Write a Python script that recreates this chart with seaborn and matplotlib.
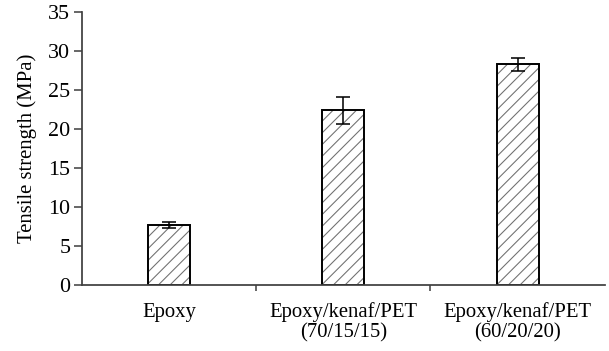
import matplotlib
matplotlib.use('Agg')
import matplotlib.pyplot as plt
import numpy as np
import pandas as pd
import seaborn as sns

# tensile strength data
samples = ["Epoxy", "Epoxy/kenaf/PET\n(70/15/15)", "Epoxy/kenaf/PET\n(60/20/20)"]
strength = [7.7, 22.4, 28.3]
strength_err = [0.4, 1.7, 0.85]
yticks = [0, 5, 10, 15, 20, 25, 30, 35]

sns.set_style("white")
plt.rcParams['font.family'] = ['Liberation Serif', 'DejaVu Serif']
plt.rcParams['hatch.linewidth'] = 0.55
plt.rcParams['hatch.color'] = '#707070'

data = pd.DataFrame({'Sample': samples, 'Strength': strength})

fig = plt.figure(figsize=(609 / 140, 351 / 140), dpi=140)
ax = fig.add_axes([0.1346, 0.188, 0.8584, 0.778])

# hatched fill, then black outline on top
sns.barplot(data=data, x='Sample', y='Strength', color='white', width=0.24,
            edgecolor='#707070', linewidth=0, hatch='////', ax=ax)
sns.barplot(data=data, x='Sample', y='Strength', fill=False, width=0.24,
            edgecolor='black', linewidth=1.0, ax=ax)
ax.errorbar(np.arange(len(samples)), strength, yerr=strength_err, fmt='none',
            ecolor='black', elinewidth=0.8, capsize=3.5, capthick=0.8)

ax.set_xlim(-0.5, 2.5)
ax.set_ylim(0, 35)
ax.set_yticks(yticks)
ax.set_xlabel('')
ax.set_ylabel('Tensile strength (MPa)', fontsize=10.7, color='black', labelpad=6)
ax.tick_params(axis='y', labelsize=11.3, length=4, width=0.8, color='#404040',
               direction='out', left=True, pad=2)
ax.tick_params(axis='x', which='major', labelsize=10.6, length=0, pad=9)
ax.set_xticks([0.5, 1.5], minor=True)
ax.tick_params(axis='x', which='minor', length=3, width=0.8, color='#404040',
               direction='out', bottom=True)
for lab in ax.get_xticklabels():
    lab.set_color('black')
    lab.set_linespacing(1.05)
for lab in ax.get_yticklabels():
    lab.set_color('black')
for s in ['top', 'right']:
    ax.spines[s].set_visible(False)
for s in ['left', 'bottom']:
    ax.spines[s].set_color('#404040')
    ax.spines[s].set_linewidth(0.9)

fig.savefig('out.png', dpi=140)
